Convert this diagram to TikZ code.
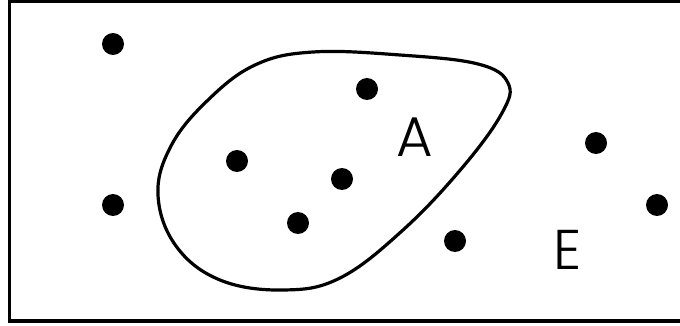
\documentclass[tikz,border=0pt]{standalone}
\usepackage{fontspec}
\setmainfont{Poppins}[UprightFont=* Light]
\tikzset{
  pt/.style={circle, fill=black, inner sep=0pt, minimum size=22pt},
  lbl/.style={font=\fontsize{56}{60}\selectfont, inner sep=0pt}
}
\begin{document}
\begin{tikzpicture}[x=1pt, y=-1pt]
  \useasboundingbox (0,0) rectangle (680,326);
  % universe E
  \draw[line width=3.2pt] (9.5,1.5) rectangle (700,321);

  % set A
  \draw[line width=3.2pt] plot[smooth cycle, tension=0.65] coordinates {
    (313,52) (400,55) (478,64) (508,83) (502,113) (462,168)
    (403,230) (340,278) (283,290) (220,280) (176,246) (158,195)
    (171,146) (207,101) (255,65)};

  % elements
  \node[pt] (p1) at (113,44) {};
  \node[pt] (p2) at (113,205) {};
  \node[pt] (p3) at (367,89) {};
  \node[pt] (p4) at (237,161) {};
  \node[pt] (p5) at (342,179) {};
  \node[pt] (p6) at (298,223) {};
  \node[pt] (p7) at (455,241) {};
  \node[pt] (p8) at (596,143) {};
  \node[pt] (p9) at (657,205) {};

  \node[lbl] (setA) at (415,137) {A};
  \node[lbl] (setE) at (568,250) {E};
\end{tikzpicture}
\end{document}
